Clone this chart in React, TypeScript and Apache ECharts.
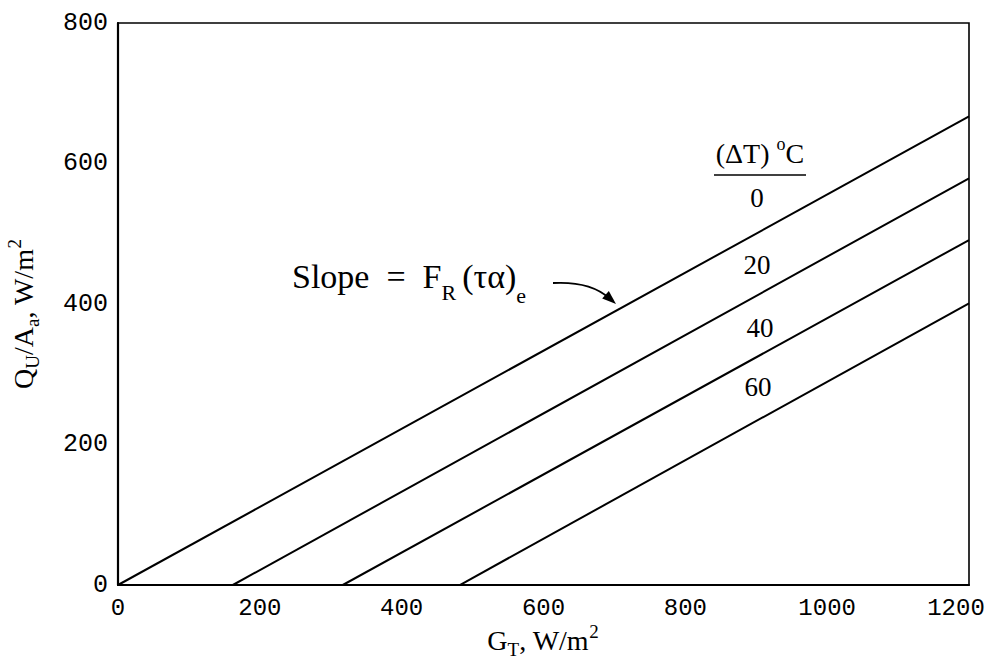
import React, { useEffect, useRef } from "react";
import * as echarts from "echarts";

// ---- data ----
const deltaTLabels = ["0", "20", "40", "60"];
const lineStartX = [0, 162, 317, 482]; // G_T where Q_U/A_a = 0
const lineEndX = [1200, 1200, 1200, 1200];
const lineEndY = [667, 579, 491, 401];
const xMin = 0;
const xMax = 1200;
const xStep = 200;
const yMin = 0;
const yMax = 800;
const yStep = 200;

const SERIF = "Liberation Serif";
const MONO = "Liberation Mono";

let measureCtx: CanvasRenderingContext2D | null = null;
function measure(text: string, size: number, family: string): number {
  if (!measureCtx) measureCtx = document.createElement("canvas").getContext("2d");
  measureCtx!.font = `${size}px "${family}"`;
  return measureCtx!.measureText(text).width;
}

type Piece = { t: string; s: number; dy?: number; gap?: number };

function row(pieces: Piece[], startX: number, baseY: number, family = SERIF) {
  let x = startX;
  const items: any[] = [];
  for (const p of pieces) {
    items.push({
      type: "text",
      x,
      y: baseY + (p.dy || 0) - 0.34 * p.s,
      silent: true,
      style: {
        text: p.t,
        fontSize: p.s,
        fontFamily: family,
        fill: "#000",
        align: "left",
        verticalAlign: "middle",
      },
    });
    x += measure(p.t, p.s, family) + (p.gap || 0);
  }
  return { items, width: x - startX };
}

function rowWidth(pieces: Piece[], family = SERIF) {
  return pieces.reduce((w, p) => w + measure(p.t, p.s, family) + (p.gap || 0), 0);
}

export default function App() {
  const ref = useRef<HTMLDivElement>(null);

  useEffect(() => {
    if (!ref.current) return;
    const chart = echarts.init(ref.current, undefined, { renderer: "svg" });

    const graphics: any[] = [];

    // x-axis title: G_T, W/m^2
    const xTitle: Piece[] = [
      { t: "G", s: 28 },
      { t: "T", s: 19, dy: 6 },
      { t: ", W/m", s: 28 },
      { t: "2", s: 19, dy: -12 },
    ];
    const xw = rowWidth(xTitle);
    graphics.push(...row(xTitle, 543 - xw / 2, 650).items);

    // y-axis title: Q_U/A_a, W/m^2 (rotated)
    const yTitle: Piece[] = [
      { t: "Q", s: 28 },
      { t: "U", s: 19, dy: 6 },
      { t: "/A", s: 28 },
      { t: "a", s: 19, dy: 6 },
      { t: ", W/m", s: 28 },
      { t: "2", s: 19, dy: -12 },
    ];
    const yw = rowWidth(yTitle);
    graphics.push({
      type: "group",
      x: 33,
      y: 314 + yw / 2,
      rotation: Math.PI / 2,
      children: row(yTitle, 0, 0).items,
    });

    // Slope annotation
    const slope: Piece[] = [
      { t: "Slope  =  F", s: 34 },
      { t: "R", s: 22, dy: 12, gap: 6 },
      { t: "(\u03C4\u03B1)", s: 34 },
      { t: "e", s: 22, dy: 15 },
    ];
    graphics.push(...row(slope, 292, 288).items);

    // arrow
    const sx = 553, sy = 283, cx = 590, cy = 281, ex = 609, ey = 298;
    graphics.push({
      type: "bezierCurve",
      silent: true,
      shape: { x1: sx, y1: sy, x2: ex, y2: ey, cpx1: cx, cpy1: cy },
      style: { stroke: "#000", lineWidth: 1.8, fill: null },
    });
    const tipX = 616, tipY = 304;
    const dx = tipX - cx, dy = tipY - cy;
    const len = Math.hypot(dx, dy);
    const ux = dx / len, uy = dy / len;
    const L = 14, W = 5;
    graphics.push({
      type: "polygon",
      silent: true,
      shape: {
        points: [
          [tipX, tipY],
          [tipX - L * ux - W * uy, tipY - L * uy + W * ux],
          [tipX - L * ux + W * uy, tipY - L * uy - W * ux],
        ],
      },
      style: { fill: "#000" },
    });

    // (ΔT) °C header
    const header: Piece[] = [
      { t: "(\u0394T) ", s: 28 },
      { t: "o", s: 18, dy: -13 },
      { t: "C", s: 28 },
    ];
    const hw = rowWidth(header);
    graphics.push(...row(header, 760 - hw / 2, 163).items);
    graphics.push({
      type: "line",
      silent: true,
      shape: { x1: 714, y1: 175, x2: 806, y2: 175 },
      style: { stroke: "#000", lineWidth: 1.6 },
    });

    const labelPos = [
      [757, 198],
      [757, 265],
      [760, 328],
      [758, 387],
    ];
    deltaTLabels.forEach((lab, i) => {
      graphics.push({
        type: "text",
        silent: true,
        x: labelPos[i][0],
        y: labelPos[i][1],
        style: {
          text: lab,
          fontSize: 27,
          fontFamily: SERIF,
          fill: "#000",
          align: "center",
          verticalAlign: "middle",
        },
      });
    });

    const series = deltaTLabels.map((lab, i) => ({
      type: "line",
      name: lab,
      data: [
        [lineStartX[i], 0],
        [lineEndX[i], lineEndY[i]],
      ],
      symbol: "none",
      lineStyle: { color: "#000", width: 2 },
      silent: true,
    }));

    chart.setOption({
      animation: false,
      backgroundColor: "#fff",
      grid: {
        left: 118,
        top: 23,
        right: 26,
        bottom: 82,
        containLabel: false,
        outerBoundsMode: "none",
        show: true,
        borderColor: "#000",
        borderWidth: 1.6,
        backgroundColor: "transparent",
      },
      xAxis: {
        type: "value",
        min: xMin,
        max: xMax,
        interval: xStep,
        axisLine: { show: true, lineStyle: { color: "#000", width: 2 } },
        axisTick: { show: false },
        splitLine: { show: false },
        axisLabel: {
          color: "#000",
          fontFamily: MONO,
          fontSize: 24,
          margin: 11,
          formatter: (v: number) => (v === xMax ? `{last|${v}}` : String(v)),
          rich: {
            last: {
              color: "#000",
              fontFamily: MONO,
              fontSize: 24,
              padding: [0, 26, 0, 0],
            },
          },
        },
      },
      yAxis: {
        type: "value",
        min: yMin,
        max: yMax,
        interval: yStep,
        axisLine: { show: true, lineStyle: { color: "#000", width: 2.2 } },
        axisTick: { show: false },
        splitLine: { show: false },
        axisLabel: {
          color: "#000",
          fontFamily: MONO,
          fontSize: 25,
          margin: 10,
          formatter: (v: number) => String(v),
        },
      },
      series,
      graphic: graphics,
    });

    return () => chart.dispose();
  }, []);

  return (
    <div
      ref={ref}
      style={{ position: "fixed", left: 0, top: 0, width: 995, height: 667, background: "#fff" }}
    />
  );
}
